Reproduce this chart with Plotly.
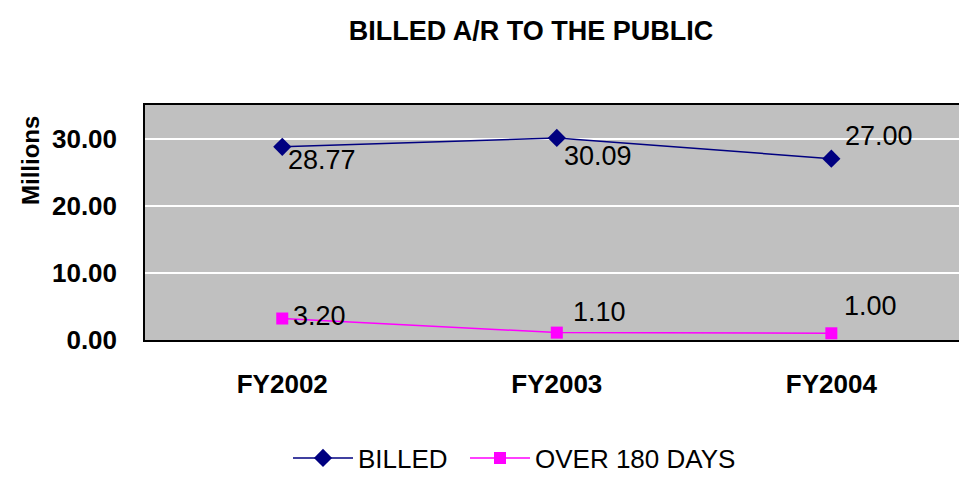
import plotly.graph_objects as go

categories = ["FY2002", "FY2003", "FY2004"]
billed = [28.77, 30.09, 27.00]
over180 = [3.20, 1.10, 1.00]
billed_labels = ["28.77", "30.09", "27.00"]
over180_labels = ["3.20", "1.10", "1.00"]
y_ticks = [0, 10, 20, 30]
y_tick_labels = ["0.00", "10.00", "20.00", "30.00"]

FONT = "Liberation Sans, Arial, sans-serif"

# page body has an 8px margin; figure sized so the page is exactly 967x483
W, H = 951, 467
L, T, B = 137, 97, 135
PH = H - T - B
PW = W - L

fig = go.Figure()
fig.add_trace(go.Scatter(
    x=categories, y=billed, name="BILLED", mode="lines+markers",
    line=dict(color="#000080", width=1.5),
    marker=dict(symbol="diamond", size=14, color="#000080"),
    legend="legend",
))
fig.add_trace(go.Scatter(
    x=categories, y=over180, name="OVER 180 DAYS", mode="lines+markers",
    line=dict(color="#FF00FF", width=1.5),
    marker=dict(symbol="square", size=12, color="#FF00FF"),
    legend="legend2",
))

# data labels placed next to their points
billed_shift = [(4, -13), (5, -18), (12, 23)]
over_shift = [(9, 3), (14, 21), (11, 27)]
for cat, val, lab, (dx, dy) in zip(categories, billed, billed_labels, billed_shift):
    fig.add_annotation(x=cat, y=val, text=lab, showarrow=False, xanchor="left",
                       yanchor="middle", xshift=dx, yshift=dy,
                       font=dict(family=FONT, size=27, color="black"))
for cat, val, lab, (dx, dy) in zip(categories, over180, over180_labels, over_shift):
    fig.add_annotation(x=cat, y=val, text=lab, showarrow=False, xanchor="left",
                       yanchor="middle", xshift=dx, yshift=dy,
                       font=dict(family=FONT, size=27, color="black"))

legend_common = dict(orientation="h", xanchor="left", y=(H - B - 450) / PH,
                     yanchor="middle", font=dict(family=FONT, size=26, color="black"),
                     bgcolor="rgba(0,0,0,0)", itemwidth=60)

fig.update_layout(
    width=W, height=H,
    margin=dict(l=L, r=0, t=T, b=B, autoexpand=False),
    paper_bgcolor="white",
    plot_bgcolor="#C0C0C0",
    showlegend=True,
    title=dict(text="<b>BILLED A/R TO THE PUBLIC</b>", x=523 / W, xanchor="center",
               y=1 - 23 / H, yanchor="middle", yref="container",
               font=dict(family=FONT, size=27, color="black")),
    legend=dict(x=(280 - L) / PW, **legend_common),
    legend2=dict(x=(457 - L) / PW, **legend_common),
    font=dict(family=FONT, color="black"),
)
fig.update_xaxes(
    type="category", range=[-0.5, 2.465], automargin=False,
    showgrid=False, showline=True, linecolor="black", linewidth=1.5, mirror=True,
    ticks="outside", ticklen=20, tickcolor="rgba(0,0,0,0)",
    tickfont=dict(family=FONT, size=26, color="black"),
    tickvals=categories, ticktext=["<b>%s</b>" % c for c in categories],
    zeroline=False,
)
fig.update_yaxes(
    range=[0, 35], automargin=False,
    tickvals=y_ticks, ticktext=["<b>%s</b>" % t for t in y_tick_labels],
    showgrid=True, gridcolor="white", gridwidth=2,
    showline=True, linecolor="black", linewidth=1.5, mirror=False,
    ticks="outside", ticklen=21, tickcolor="rgba(0,0,0,0)",
    tickfont=dict(family=FONT, size=26, color="black"),
    zeroline=False,
)
fig.add_annotation(
    text="<b>Millions</b>", textangle=-90, xref="paper", yref="paper",
    x=(22 - L) / PW, y=(H - B - 153) / PH, xanchor="center", yanchor="middle",
    showarrow=False, font=dict(family=FONT, size=24, color="black"),
)

fig.write_html("out.html")
